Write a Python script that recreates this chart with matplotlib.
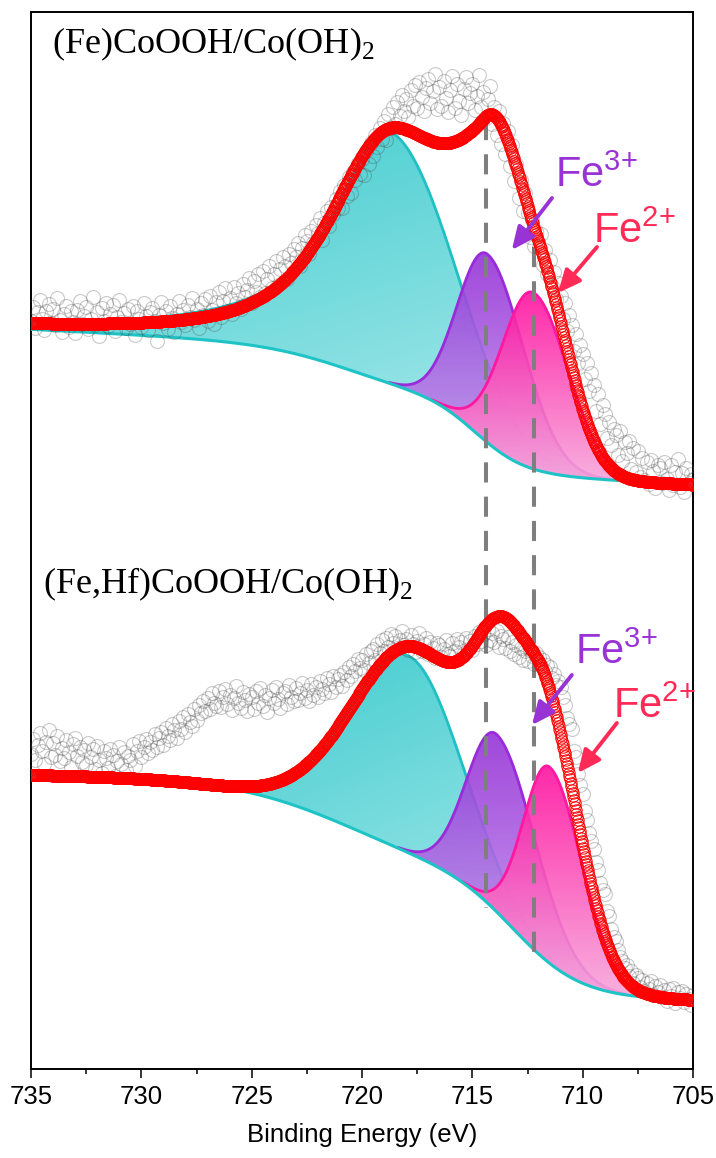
import numpy as np
import matplotlib
matplotlib.use("Agg")
import matplotlib.pyplot as plt
from matplotlib.patches import Polygon
from matplotlib.colors import to_rgb

plt.rcParams["font.family"] = ["Liberation Sans", "DejaVu Sans"]
plt.rcParams["mathtext.fontset"] = "custom"
plt.rcParams["mathtext.rm"] = "Liberation Serif"
plt.rcParams["mathtext.sf"] = "Liberation Sans"

# ---- data (intensity in a.u., binding energy in eV) ----
# raw spectra, 735 -> 705 eV in 0.1 eV steps
raw_top = [
    748, 762, 741, 757, 769, 750, 739, 758, 765, 746, 760, 744, 771, 749, 737, 755, 763, 742, 758, 747,
    736, 759, 768, 745, 753, 762, 740, 750, 772, 744, 757, 733, 761, 748, 766, 743, 755, 764, 738, 752,
    769, 747, 756, 741, 760, 745, 763, 734, 758, 750, 742, 766, 753, 739, 757, 761, 748, 728, 754, 767,
    746, 758, 740, 763, 751, 737, 755, 768, 747, 759, 744, 764, 752, 771, 749, 760, 741, 766, 754, 770,
    748, 773, 759, 745, 767, 777, 752, 768, 781, 758, 771, 755, 782, 766, 776, 760, 785, 772, 779, 791,
    766, 788, 777, 795, 772, 798, 776, 790, 803, 781, 795, 808, 784, 800, 812, 803, 790, 815, 806, 820,
    812, 826, 803, 821, 834, 828, 815, 838, 826, 844, 836, 851, 829, 846, 858, 843, 862, 855, 870, 861,
    878, 861, 884, 873, 892, 876, 897, 889, 906, 895, 910, 894, 918, 905, 926, 913, 934, 922, 941, 930,
    948, 929, 955, 941, 962, 945, 967, 953, 974, 958, 970, 952, 979, 963, 984, 961, 987, 972, 958, 981,
    990, 966, 978, 995, 960, 982, 963, 988, 971, 957, 979, 993, 961, 985, 968, 954, 980, 992, 966, 976,
    985, 959, 973, 994, 962, 977, 951, 970, 983, 945, 962, 934, 958, 925, 946, 915, 938, 903, 924, 888,
    905, 871, 889, 858, 876, 856, 832, 849, 823, 838, 822, 835, 804, 819, 795, 809, 783, 797, 770, 786,
    773, 750, 766, 738, 754, 744, 718, 735, 706, 724, 715, 690, 706, 678, 696, 684, 658, 675, 645, 664,
    655, 631, 647, 624, 640, 634, 614, 638, 608, 627, 616, 628, 600, 621, 597, 618, 592, 611, 589, 607,
    585, 609, 598, 581, 604, 601, 586, 607, 590, 579, 604, 584, 597, 610, 582, 596, 577, 601, 586, 595,
    590,
]
raw_bot = [
    315, 330, 309, 324, 336, 318, 305, 327, 339, 312, 326, 314, 333, 308, 321, 311, 329, 317, 302, 325,
    331, 313, 322, 307, 319, 304, 326, 312, 320, 300, 323, 309, 296, 318, 311, 301, 320, 314, 293, 308,
    322, 305, 317, 299, 313, 309, 325, 303, 318, 328, 312, 322, 330, 316, 327, 319, 335, 322, 331, 337,
    324, 341, 333, 329, 345, 339, 331, 348, 340, 352, 337, 355, 347, 343, 360, 349, 364, 356, 368, 358,
    371, 360, 376, 366, 363, 378, 362, 372, 380, 365, 374, 359, 371, 383, 366, 361, 377, 369, 358, 375,
    372, 360, 378, 366, 381, 363, 374, 357, 371, 379, 366, 382, 370, 361, 376, 378, 365, 384, 372, 368,
    381, 369, 376, 386, 371, 379, 368, 385, 374, 382, 372, 388, 380, 376, 391, 385, 377, 393, 382, 390,
    394, 383, 397, 389, 402, 393, 405, 398, 410, 401, 409, 399, 415, 406, 418, 420, 409, 425, 416, 429,
    418, 431, 422, 435, 426, 433, 421, 429, 438, 424, 430, 419, 434, 425, 417, 428, 436, 418, 425, 431,
    415, 427, 421, 411, 426, 424, 412, 420, 429, 415, 413, 426, 418, 430, 422, 427, 416, 431, 420, 428,
    419, 433, 425, 437, 428, 435, 424, 440, 429, 436, 427, 438, 422, 433, 430, 421, 432, 418, 427, 415,
    424, 412, 421, 409, 418, 408, 419, 413, 405, 416, 412, 403, 409, 398, 404, 402, 391, 395, 384, 388,
    382, 372, 364, 351, 345, 340, 318, 312, 295, 284, 275, 258, 249, 236, 228, 220, 207, 199, 186, 179,
    175, 158, 153, 140, 132, 128, 119, 112, 108, 101, 104, 93, 98, 86, 94, 91, 82, 89, 78, 86,
    80, 88, 74, 83, 77, 84, 72, 79, 68, 80, 73, 81, 66, 77, 71, 78, 67, 75, 70, 64,
    74,
]

# Shirley-type background: low end, slope, two step heights/centres/widths
bg_top = [584.38, 1.120, 75.26, 714.784, 1.108, 46.45, 720.705, 1.984]
bg_bot = [68.06, 0.312, 124.53, 713.049, 1.497, 92.48, 720.672, 2.688]

# fitted components (satellite, Fe3+, Fe2+): centre, height, HWHM high-BE side, HWHM low-BE side
top_centres = [718.815, 714.309, 712.289]
top_heights = [252.0, 188.4, 176.4]
top_hwhm_left = [3.006, 1.586, 1.629]
top_hwhm_right = [3.482, 1.961, 1.893]
top_lorentz = [1.0, 0.0, 0.0]

bot_centres = [717.891, 713.883, 711.506]
bot_heights = [196.9, 177.4, 196.2]
bot_hwhm_left = [3.176, 1.596, 1.388]
bot_hwhm_right = [2.832, 2.084, 1.738]
bot_lorentz = [0.0, 0.0, 0.0]

# cumulative fit envelope (red)
top_env_centres = [719.460, 714.422, 711.958]
top_env_heights = [139.2, 231.3, 178.2]
top_env_hwhm_left = [3.337, 4.564, 2.413]
top_env_hwhm_right = [2.347, 1.636, 1.649]
top_env_lorentz = [1.0, 0.0, 0.0]

bot_env_centres = [717.509, 713.641, 711.461]
bot_env_heights = [208.5, 158.8, 202.6]
bot_env_hwhm_left = [3.378, 1.410, 1.330]
bot_env_hwhm_right = [4.050, 1.319, 1.653]
bot_env_lorentz = [0.0, 0.0, 0.0]

sample_labels = [r"(Fe)CoOOH/Co(OH)$_{\mathrm{2}}$", r"(Fe,Hf)CoOOH/Co(OH)$_{\mathrm{2}}$"]
ref_lines = [714.38, 712.2]


def background(E, p):
    low, slope, h1, c1, w1, h2, c2, w2 = p
    return (low + slope * (E - 705) + h1 / (1 + np.exp(-(E - c1) / w1))
            + h2 / (1 + np.exp(-(E - c2) / w2)))


def peak(E, c, h, wl, wr, lor):
    left = E >= c
    w = np.where(left, wl, wr)
    eta = np.where(left, lor, 0.0)
    d = (E - c) / w
    return h * ((1 - eta) * np.exp(-np.log(2) * d * d) + eta / (1 + d * d))


def grad_fill(ax, E, lower, upper, c_top, c_bot, z, diag=0.0):
    keep = (upper - lower) > 0.3
    verts = np.vstack([np.column_stack([E, upper]), np.column_stack([E[::-1], lower[::-1]])])
    poly = Polygon(verts, closed=True, fc="none", ec="none")
    ax.add_patch(poly)
    x0, x1 = E[keep].min(), E[keep].max()
    y0, y1 = lower[keep].min(), upper[keep].max()
    v = np.linspace(0, 1, 200)[:, None]
    hz = np.linspace(1, 0, 200)[None, :]
    t = np.clip((1 - diag) * v + diag * hz, 0, 1)
    a, b = np.array(to_rgb(c_bot)), np.array(to_rgb(c_top))
    img = a + (b - a) * t[..., None]
    im = ax.imshow(img, extent=[x1, x0, y0, y1], origin="lower", aspect="auto",
                   alpha=0.9, zorder=z, interpolation="bilinear")
    im.set_clip_path(poly)


fig = plt.figure(figsize=(7.16, 11.58), dpi=100)
ax = fig.add_axes([31 / 716, 89 / 1158, 662 / 716, 1057 / 1158])

E = np.linspace(705, 735, 1001)
E_raw = np.linspace(735, 705, len(raw_top))

panels = [
    (raw_top, bg_top, (top_centres, top_heights, top_hwhm_left, top_hwhm_right, top_lorentz),
     (top_env_centres, top_env_heights, top_env_hwhm_left, top_env_hwhm_right, top_env_lorentz)),
    (raw_bot, bg_bot, (bot_centres, bot_heights, bot_hwhm_left, bot_hwhm_right, bot_lorentz),
     (bot_env_centres, bot_env_heights, bot_env_hwhm_left, bot_env_hwhm_right, bot_env_lorentz)),
]
fills = [("#26c5c8", "#aeebed", "#1fc0c4", 0.35),
         ("#9632d8", "#caa0ee", "#992cd8", 0.0),
         ("#ff12a0", "#f8a8dc", "#ff18a2", 0.0)]

for raw, bgp, comps, env in panels:
    bg = background(E, bgp)
    for k, (ct, cb, cl, dg) in enumerate(fills):
        p = peak(E, *[col[k] for col in comps])
        up = bg + p
        grad_fill(ax, E, bg, up, ct, cb, 2 + k, diag=dg)
        line = np.where(p > 0.8, up, np.nan)
        ax.plot(E, line, color=cl, lw=2.0, zorder=2.5 + k)
    ax.plot(E, bg, color="#1ec3c6", lw=2.2, zorder=5.5)

    total = bg.copy()
    for k in range(3):
        total += peak(E, *[col[k] for col in env])
    ax.plot(E_raw, raw, "o", ms=10, mfc="none", mec=(0.3, 0.3, 0.3, 0.3), mew=0.8, zorder=7)
    ax.plot(E, total, "o", ms=8.2, mfc="none", mec="#ff0000", mew=0.7, zorder=8)

# reference positions of Fe3+ / Fe2+
ax.plot([ref_lines[0]] * 2, [949, 161], color="#7f7f7f", lw=2.9, ls=(0, (5, 3.5)), zorder=6)
ax.plot([ref_lines[1]] * 2, [822, 109], color="#7f7f7f", lw=2.9, ls=(0, (5, 3.5)), zorder=6)

ax.text(0.0317, 0.9612, sample_labels[0], transform=ax.transAxes, fontsize=26,
        family=["Liberation Serif", "DejaVu Serif"], va="baseline", ha="left", zorder=10)
ax.text(0.0181, 0.4503, sample_labels[1], transform=ax.transAxes, fontsize=26,
        family=["Liberation Serif", "DejaVu Serif"], va="baseline", ha="left", zorder=10)

fe3 = "#9a33d6"
fe2 = "#ff2b56"
labels = [("Fe$^{\\mathsf{3{+}}}$", fe3, (711.26, 882), (711.39, 871), (713.21, 819)),
          ("Fe$^{\\mathsf{2{+}}}$", fe2, (709.54, 826), (709.35, 822), (711.12, 776)),
          ("Fe$^{\\mathsf{3{+}}}$", fe3, (710.35, 405), (710.49, 394), (712.30, 344)),
          ("Fe$^{\\mathsf{2{+}}}$", fe2, (708.63, 351), (708.45, 346), (710.22, 296))]
for txt, col, pos, tail, tip in labels:
    ax.text(pos[0], pos[1], txt, color=col, fontsize=30, ha="left", va="baseline", zorder=10)
    ax.annotate("", xy=tip, xytext=tail, zorder=10,
                arrowprops=dict(arrowstyle="-|>,head_length=0.55,head_width=0.25", color=col,
                                lw=2.8, mutation_scale=25, shrinkA=0, shrinkB=0))

ax.set_xlim(735, 705)
ax.set_ylim(0, 1057)
ax.set_xticks(np.arange(735, 704, -5))
ax.set_xticks(np.arange(732.5, 705, -5), minor=True)
ax.set_yticks([])
ax.tick_params(axis="x", which="major", direction="out", length=6.5, width=1.1, labelsize=18.5, pad=5)
ax.tick_params(axis="x", which="minor", direction="out", length=3.6, width=1.1)
for s in ax.spines.values():
    s.set_linewidth(1.4)
ax.set_xlabel("Binding Energy (eV)", fontsize=18.5, labelpad=10)

fig.savefig("out.png", dpi=100)
